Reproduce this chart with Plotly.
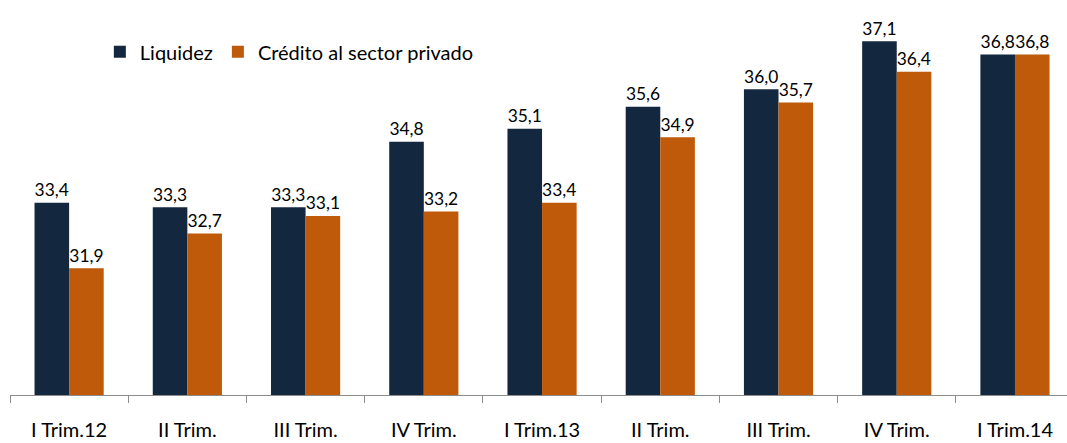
import plotly.graph_objects as go

categories = ["I Trim.12", "II Trim.", "III Trim.", "IV Trim.", "I Trim.13",
              "II Trim.", "III Trim.", "IV Trim.", "I Trim.14"]
cat_ids = [f"c{i}" for i in range(len(categories))]
liquidez = [33.4, 33.3, 33.3, 34.8, 35.1, 35.6, 36.0, 37.1, 36.8]
credito = [31.9, 32.7, 33.1, 33.2, 33.4, 34.9, 35.7, 36.4, 36.8]

font_family = "Lato, 'Noto Sans', sans-serif"

fig = go.Figure()
fig.add_trace(go.Bar(
    x=cat_ids, y=liquidez, name="Liquidez",
    marker=dict(color="#13273F", line=dict(width=0)),
    texttemplate="%{y:.1f}", textposition="outside",
    textfont=dict(size=20, color="#000000", family=font_family),
    cliponaxis=False,
))
fig.add_trace(go.Bar(
    x=cat_ids, y=credito, name="Crédito al sector privado",
    marker=dict(color="#BE5A09", line=dict(width=0)),
    texttemplate="%{y:.1f}", textposition="outside",
    textfont=dict(size=20, color="#000000", family=font_family),
    cliponaxis=False,
))

fig.update_layout(
    width=1067, height=443,
    margin=dict(l=10, r=0, t=2, b=48),
    paper_bgcolor="white", plot_bgcolor="white",
    barmode="group", bargap=0.415, bargroupgap=0,
    separators=",.",
    font=dict(family=font_family, size=20, color="#000000"),
    showlegend=True,
    legend=dict(orientation="h", x=0.085, y=0.923, xanchor="left", yanchor="top",
                font=dict(size=20, family=font_family), bgcolor="rgba(0,0,0,0)",
                itemwidth=30, tracegroupgap=0),
    uniformtext=dict(minsize=10, mode="show"),
)
fig.update_xaxes(
    type="category", range=[-0.5, 8.44],
    tickmode="array", tickvals=cat_ids, ticktext=categories,
    tickson="boundaries", ticks="outside", ticklen=7, tickcolor="#8C8C8C", tickwidth=1,
    showline=True, linecolor="#8C8C8C", linewidth=1,
    showgrid=False, zeroline=False,
    tickfont=dict(size=20, family=font_family, color="#000000"),
    ticklabelstandoff=17,
)
fig.update_yaxes(range=[29, 38], visible=False, showgrid=False, zeroline=False)

fig.write_html("out.html", config={"displayModeBar": False})

# remove the default page margin so the figure sits at the window's top-left corner
with open("out.html", "r", encoding="utf-8") as f:
    html = f.read()
html = html.replace("<head>", "<head><style>html,body{margin:0;padding:0;overflow:hidden;}</style>", 1)
with open("out.html", "w", encoding="utf-8") as f:
    f.write(html)
